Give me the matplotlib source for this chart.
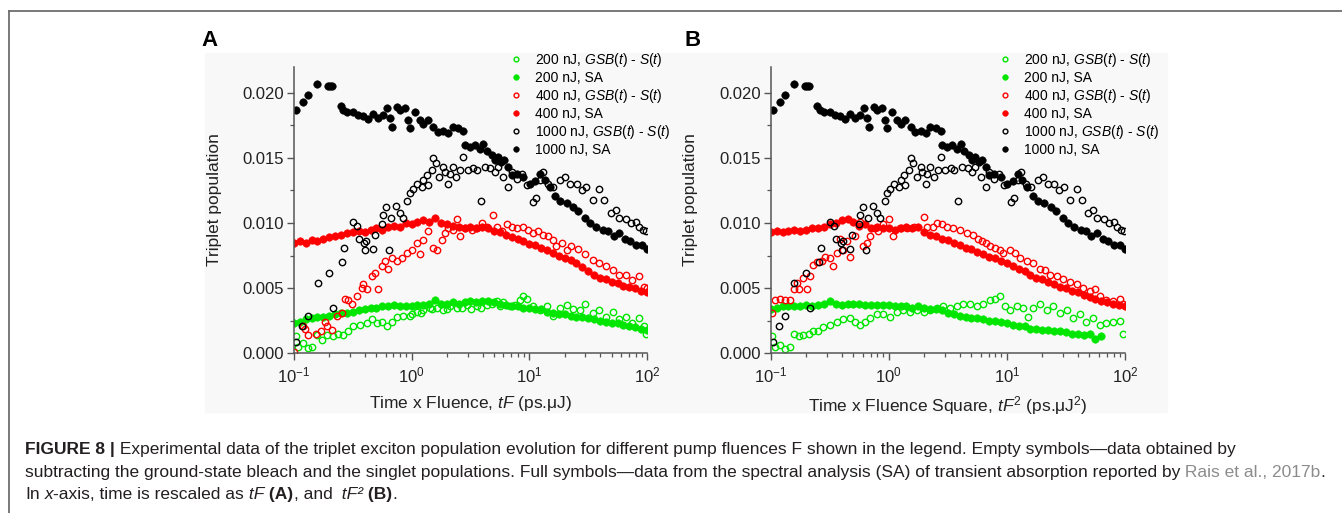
import matplotlib
matplotlib.use('Agg')
import matplotlib.pyplot as plt
import numpy as np
from matplotlib.lines import Line2D
from matplotlib.patches import Rectangle
from matplotlib.ticker import LogLocator, MultipleLocator, NullFormatter, FormatStrFormatter

plt.rcParams['font.family'] = 'Liberation Sans'
plt.rcParams['mathtext.fontset'] = 'custom'
plt.rcParams['mathtext.rm'] = 'Liberation Sans'
plt.rcParams['mathtext.it'] = 'Liberation Sans:italic'
plt.rcParams['mathtext.bf'] = 'Liberation Sans:bold'

# ---- data ----
# common time grid for the spectral-analysis (SA) curves
grid = [0.1, 0.112, 0.126, 0.141, 0.158, 0.178, 0.2, 0.224, 0.251, 0.282,
        0.316, 0.355, 0.398, 0.447, 0.501, 0.562, 0.631, 0.708, 0.794, 0.891,
        1.0, 1.12, 1.26, 1.41, 1.58, 1.78, 2.0, 2.24, 2.51, 2.82,
        3.16, 3.55, 3.98, 4.47, 5.01, 5.62, 6.31, 7.08, 7.94, 8.91,
        10.0, 11.2, 12.6, 14.1, 15.8, 17.8, 20.0, 22.4, 25.1, 28.2,
        31.6, 35.5, 39.8, 44.7, 50.1, 56.2, 63.1, 70.8, 79.4, 89.1,
        100.0]

# panel A (x = tF)
sa200_A = [0.0023, 0.0024, 0.0026, 0.0027, 0.0028, 0.0028, 0.0029, 0.0030, 0.0031, 0.0031,
           0.0032, 0.0033, 0.0034, 0.0035, 0.0035, 0.0036, 0.0036, 0.0037, 0.0036, 0.0036,
           0.0036, 0.0037, 0.0037, 0.0038, 0.0041, 0.0038, 0.0038, 0.0039, 0.0038, 0.0039,
           0.0040, 0.0039, 0.0040, 0.0040, 0.0039, 0.0038, 0.0037, 0.0036, 0.0036, 0.0035,
           0.0035, 0.0034, 0.0034, 0.0032, 0.0031, 0.0030, 0.0030, 0.0029, 0.0028, 0.0028,
           0.0027, 0.0026, 0.0025, 0.0024, 0.0023, 0.0023, 0.0022, 0.0021, 0.0020, 0.0019,
           0.0018]
sa400_A = [0.0085, 0.0086, 0.0085, 0.0087, 0.0086, 0.0088, 0.0089, 0.0090, 0.0091, 0.0092,
           0.0093, 0.0094, 0.0093, 0.0095, 0.0096, 0.0095, 0.0097, 0.0098, 0.0097, 0.0100,
           0.0099, 0.0101, 0.0102, 0.0101, 0.0104, 0.0100, 0.0099, 0.0098, 0.0097, 0.0096,
           0.0097, 0.0096, 0.0097, 0.0096, 0.0094, 0.0093, 0.0091, 0.0089, 0.0088, 0.0086,
           0.0084, 0.0083, 0.0081, 0.0079, 0.0077, 0.0075, 0.0073, 0.0072, 0.0069, 0.0066,
           0.0063, 0.0060, 0.0058, 0.0057, 0.0055, 0.0054, 0.0052, 0.0051, 0.0050, 0.0048,
           0.0047]

gsb200_A_x = [0.104, 0.109, 0.12, 0.132, 0.141, 0.156, 0.172, 0.189, 0.216, 0.238,
              0.262, 0.29, 0.319, 0.364, 0.414, 0.457, 0.504, 0.556, 0.613, 0.676,
              0.745, 0.85, 0.97, 1.0, 1.1, 1.2, 1.26, 1.43, 1.5, 1.63,
              1.86, 2.0, 2.11, 2.41, 2.7, 2.93, 3.2, 3.56, 3.9, 4.33,
              4.8, 5.27, 5.6, 6.0, 6.8, 7.5, 8.3, 8.9, 9.5, 10.8,
              12.3, 14.0, 16.0, 18.3, 20.7, 23.6, 26.9, 30.0, 34.5, 39.0,
              45.0, 51.0, 58.0, 66.0, 75.0, 86.0, 95.0, 98.0]
gsb200_A = [0.0013, 0.0005, 0.0008, 0.0004, 0.0005, 0.0014, 0.0010, 0.0014, 0.0013, 0.0015,
            0.0014, 0.0017, 0.0021, 0.0022, 0.0023, 0.0026, 0.0023, 0.0024, 0.0021, 0.0024,
            0.0028, 0.0029, 0.0029, 0.0030, 0.0032, 0.0031, 0.0033, 0.0035, 0.0034, 0.0035,
            0.0033, 0.0034, 0.0036, 0.0035, 0.0035, 0.0037, 0.0034, 0.0036, 0.0035, 0.0037,
            0.0038, 0.0040, 0.0036, 0.0039, 0.0036, 0.0037, 0.0041, 0.0044, 0.0042, 0.0036,
            0.0033, 0.0036, 0.0029, 0.0035, 0.0037, 0.0034, 0.0033, 0.0038, 0.0031, 0.0033,
            0.0028, 0.0032, 0.0026, 0.0028, 0.0023, 0.0027, 0.0021, 0.0015]

gsb400_A_x = [0.1, 0.12, 0.124, 0.132, 0.154, 0.17, 0.183, 0.19, 0.209, 0.23,
              0.254, 0.271, 0.29, 0.309, 0.34, 0.376, 0.388, 0.414, 0.457, 0.488,
              0.521, 0.556, 0.594, 0.634, 0.676, 0.745, 0.822, 0.906, 1.0, 1.1,
              1.18, 1.26, 1.39, 1.53, 1.63, 1.8, 1.92, 2.05, 2.26, 2.41,
              2.57, 2.84, 3.23, 3.56, 3.93, 4.33, 4.93, 5.27, 5.81, 6.4,
              7.06, 7.78, 8.9, 9.8, 10.8, 11.9, 13.1, 14.5, 16.0, 17.0,
              18.8, 20.7, 22.8, 26.1, 29.8, 34.5, 39.0, 45.0, 51.0, 58.0,
              66.0, 75.0, 86.0, 95.0, 100.0]
gsb400_A = [0.0001, 0.0021, 0.0019, 0.0014, 0.0015, 0.0017, 0.0024, 0.0021, 0.0018, 0.0029,
            0.0031, 0.0042, 0.0041, 0.0038, 0.0044, 0.0050, 0.0053, 0.0049, 0.0059, 0.0062,
            0.0049, 0.0067, 0.0071, 0.0065, 0.0073, 0.0071, 0.0073, 0.0077, 0.0079, 0.0085,
            0.0076, 0.0087, 0.0094, 0.0081, 0.0079, 0.0087, 0.0092, 0.0096, 0.0095, 0.0103,
            0.0090, 0.0096, 0.0095, 0.0096, 0.0100, 0.0097, 0.0106, 0.0097, 0.0094, 0.0099,
            0.0097, 0.0096, 0.0097, 0.0095, 0.0092, 0.0094, 0.0091, 0.0090, 0.0087, 0.0082,
            0.0085, 0.0079, 0.0082, 0.0080, 0.0076, 0.0072, 0.0069, 0.0067, 0.0064, 0.0060,
            0.0060, 0.0056, 0.0059, 0.0051, 0.0050]

# 1000 nJ: F = 1 uJ, so tF = tF^2 and the same points appear in both panels
sa1000_x = [0.105, 0.119, 0.132, 0.158, 0.196, 0.203, 0.209, 0.249, 0.262, 0.28,
            0.319, 0.352, 0.388, 0.428, 0.473, 0.521, 0.566, 0.612, 0.653, 0.675,
            0.744, 0.795, 0.88, 0.935, 0.96, 1.06, 1.18, 1.26, 1.38, 1.53,
            1.68, 1.86, 2.05, 2.25, 2.49, 2.75, 2.84, 3.13, 3.45, 3.81,
            4.07, 4.34, 4.8, 5.1, 5.4, 5.8, 6.1, 6.6, 7.06, 7.8,
            8.9, 10.1, 11.2, 12.3, 13.5, 14.9, 16.5, 18.3, 20.8, 23.6,
            26.1, 29.8, 33.0, 37.0, 42.0, 47.0, 52.0, 58.0, 65.0, 72.0,
            80.0, 90.0, 100.0]
sa1000 = [0.0187, 0.0193, 0.0198, 0.0207, 0.0205, 0.0205, 0.0205, 0.0190, 0.0187, 0.0185,
          0.0185, 0.0183, 0.0182, 0.0180, 0.0184, 0.0181, 0.0183, 0.0188, 0.0181, 0.0174,
          0.0189, 0.0187, 0.0188, 0.0179, 0.0173, 0.0185, 0.0179, 0.0176, 0.0179, 0.0174,
          0.0170, 0.0171, 0.0169, 0.0174, 0.0173, 0.0171, 0.0160, 0.0158, 0.0160, 0.0157,
          0.0161, 0.0155, 0.0152, 0.0148, 0.0151, 0.0147, 0.0148, 0.0143, 0.0137, 0.0138,
          0.0135, 0.0130, 0.0132, 0.0138, 0.0133, 0.0128, 0.0121, 0.0117, 0.0115, 0.0112,
          0.0109, 0.0104, 0.0100, 0.0097, 0.0095, 0.0094, 0.0090, 0.0092, 0.0088, 0.0086,
          0.0083, 0.0083, 0.0080]
gsb1000_x = [0.105, 0.118, 0.132, 0.159, 0.2, 0.216, 0.254, 0.266, 0.32, 0.345,
             0.36, 0.39, 0.4, 0.41, 0.466, 0.49, 0.56, 0.57, 0.61, 0.64,
             0.67, 0.74, 0.8, 0.85, 0.92, 0.97, 1.03, 1.1, 1.22, 1.26,
             1.34, 1.38, 1.48, 1.53, 1.6, 1.72, 1.86, 1.92, 2.05, 2.1,
             2.25, 2.4, 2.6, 2.75, 3.0, 3.33, 3.56, 3.85, 4.2, 4.64,
             5.1, 5.4, 6.0, 6.6, 7.06, 7.8, 8.6, 9.5, 10.8, 11.5,
             12.3, 13.1, 14.5, 16.0, 18.3, 20.1, 22.2, 25.2, 27.8, 30.6,
             34.5, 39.0, 43.0, 49.0, 54.0, 58.0, 66.0, 73.0, 81.0, 86.0,
             92.0, 98.0]
gsb1000 = [0.0009, 0.0021, 0.0029, 0.0054, 0.0062, 0.0035, 0.0070, 0.0081, 0.0101, 0.0098,
           0.0088, 0.0085, 0.0079, 0.0086, 0.0080, 0.0091, 0.0099, 0.0106, 0.0112, 0.0079,
           0.0104, 0.0113, 0.0108, 0.0104, 0.0117, 0.0123, 0.0126, 0.0130, 0.0128, 0.0133,
           0.0137, 0.0129, 0.0141, 0.0150, 0.0146, 0.0135, 0.0143, 0.0139, 0.0130, 0.0138,
           0.0143, 0.0135, 0.0141, 0.0151, 0.0141, 0.0142, 0.0141, 0.0117, 0.0143, 0.0142,
           0.0139, 0.0143, 0.0135, 0.0128, 0.0139, 0.0134, 0.0138, 0.0129, 0.0116, 0.0119,
           0.0133, 0.0139, 0.0130, 0.0128, 0.0133, 0.0135, 0.0130, 0.0130, 0.0125, 0.0128,
           0.0118, 0.0126, 0.0118, 0.0108, 0.0110, 0.0104, 0.0103, 0.0100, 0.0101, 0.0097,
           0.0095, 0.0094]

# panel B (x = tF^2)
sa200_B = [0.0034, 0.0035, 0.0036, 0.0036, 0.0036, 0.0036, 0.0037, 0.0036, 0.0037, 0.0038,
           0.0040, 0.0038, 0.0037, 0.0038, 0.0038, 0.0038, 0.0037, 0.0037, 0.0037, 0.0037,
           0.0037, 0.0036, 0.0036, 0.0036, 0.0035, 0.0036, 0.0035, 0.0034, 0.0034, 0.0033,
           0.0031, 0.0030, 0.0029, 0.0028, 0.0027, 0.0027, 0.0026, 0.0025, 0.0025, 0.0024,
           0.0023, 0.0022, 0.0021, 0.0021, 0.0019, 0.0019, 0.0018, 0.0018, 0.0017, 0.0017,
           0.0016, 0.0015, 0.0015, 0.0014, 0.0015, 0.0011, 0.0013]
sa400_B = [0.0093, 0.0094, 0.0093, 0.0094, 0.0095, 0.0094, 0.0095, 0.0096, 0.0096, 0.0097,
           0.0099, 0.0100, 0.0102, 0.0103, 0.0101, 0.0098, 0.0099, 0.0096, 0.0097, 0.0096,
           0.0096, 0.0095, 0.0096, 0.0097, 0.0096, 0.0097, 0.0093, 0.0091, 0.0090, 0.0088,
           0.0087, 0.0085, 0.0083, 0.0081, 0.0080, 0.0078, 0.0076, 0.0074, 0.0073, 0.0071,
           0.0069, 0.0067, 0.0065, 0.0063, 0.0060, 0.0058, 0.0057, 0.0055, 0.0053, 0.0051,
           0.0050, 0.0048, 0.0047, 0.0045, 0.0043, 0.0042, 0.0040, 0.0039, 0.0038, 0.0037,
           0.0036]

gsb200_B_x = [0.102, 0.109, 0.12, 0.132, 0.146, 0.156, 0.172, 0.189, 0.209, 0.23,
              0.253, 0.279, 0.318, 0.362, 0.412, 0.47, 0.518, 0.57, 0.63, 0.69,
              0.79, 0.9, 1.03, 1.17, 1.33, 1.52, 1.73, 1.97, 2.24, 2.55,
              2.9, 3.3, 3.77, 4.29, 4.88, 5.56, 6.33, 7.2, 7.95, 8.7,
              9.6, 10.6, 12.1, 13.8, 15.2, 16.7, 19.1, 21.7, 24.7, 28.1,
              32.0, 36.4, 41.4, 47.2, 53.7, 61.0, 69.5, 79.0, 90.0, 96.0]
gsb200_B = [0.0013, 0.0005, 0.0006, 0.0003, 0.0005, 0.0015, 0.0013, 0.0014, 0.0015, 0.0017,
            0.0017, 0.0020, 0.0022, 0.0024, 0.0026, 0.0027, 0.0024, 0.0022, 0.0024, 0.0027,
            0.0030, 0.0030, 0.0028, 0.0032, 0.0033, 0.0032, 0.0033, 0.0032, 0.0033, 0.0035,
            0.0036, 0.0035, 0.0036, 0.0038, 0.0038, 0.0036, 0.0038, 0.0041, 0.0042, 0.0044,
            0.0036, 0.0033, 0.0036, 0.0035, 0.0028, 0.0035, 0.0038, 0.0033, 0.0036, 0.0031,
            0.0033, 0.0027, 0.0030, 0.0024, 0.0027, 0.0022, 0.0023, 0.0024, 0.0025, 0.0015]

gsb400_B_x = [0.102, 0.109, 0.12, 0.132, 0.146, 0.156, 0.166, 0.172, 0.189, 0.202,
              0.215, 0.23, 0.245, 0.27, 0.289, 0.318, 0.34, 0.362, 0.388, 0.412,
              0.44, 0.47, 0.518, 0.57, 0.61, 0.65, 0.69, 0.766, 0.81, 0.9,
              1.0, 1.09, 1.24, 1.42, 1.62, 1.97, 2.1, 2.39, 2.55, 2.8,
              3.1, 3.53, 4.0, 4.57, 5.2, 5.7, 6.1, 6.7, 7.2, 7.95,
              8.7, 9.3, 10.6, 11.7, 12.9, 14.7, 16.7, 19.1, 21.0, 23.2,
              26.4, 30.0, 34.3, 39.0, 44.4, 50.5, 55.7, 61.0, 69.5, 79.0,
              90.0, 96.0]
gsb400_B = [0.0031, 0.0041, 0.0042, 0.0041, 0.0041, 0.0049, 0.0054, 0.0049, 0.0058, 0.0049,
            0.0059, 0.0068, 0.0070, 0.0071, 0.0074, 0.0073, 0.0067, 0.0077, 0.0088, 0.0079,
            0.0086, 0.0074, 0.0090, 0.0101, 0.0082, 0.0085, 0.0090, 0.0096, 0.0094, 0.0099,
            0.0103, 0.0090, 0.0096, 0.0096, 0.0097, 0.0105, 0.0097, 0.0097, 0.0100, 0.0099,
            0.0097, 0.0096, 0.0095, 0.0092, 0.0091, 0.0088, 0.0086, 0.0085, 0.0082, 0.0081,
            0.0079, 0.0077, 0.0079, 0.0077, 0.0073, 0.0071, 0.0069, 0.0065, 0.0064, 0.0060,
            0.0059, 0.0057, 0.0055, 0.0053, 0.0050, 0.0048, 0.0049, 0.0044, 0.0041, 0.0040,
            0.0042, 0.0038]

labels = ['200 nJ, $GSB$($t$) - $S$($t$)', '200 nJ, SA',
          '400 nJ, $GSB$($t$) - $S$($t$)', '400 nJ, SA',
          '1000 nJ, $GSB$($t$) - $S$($t$)', '1000 nJ, SA']
colors = ['#00e600', '#00e600', '#ff0000', '#ff0000', '#000000', '#000000']
filled = [False, True, False, True, False, True]

series_A = [(gsb200_A_x, gsb200_A), (grid, sa200_A),
            (gsb400_A_x, gsb400_A), (grid, sa400_A),
            (gsb1000_x, gsb1000), (sa1000_x, sa1000)]
series_B = [(gsb200_B_x, gsb200_B), (grid[:len(sa200_B)], sa200_B),
            (gsb400_B_x, gsb400_B), (grid, sa400_B),
            (gsb1000_x, gsb1000), (sa1000_x, sa1000)]

# ---- figure ----
W, H = 1342, 513
fig = plt.figure(figsize=(W / 100, H / 100), dpi=100)


def fx(px):
    return px / W


def fy(py):
    return 1 - py / H


# light grey background behind both panels
fig.patches.append(Rectangle((fx(205), fy(412)), fx(1167) - fx(205), (412 - 53) / H,
                             transform=fig.transFigure, color='#f8f8f8', zorder=-5))

# frame lines (left and top)
fig.add_artist(Line2D([fx(9.3), fx(9.3)], [fy(10.7), 0], transform=fig.transFigure,
                      color='#6e6e6e', lw=1.3))
fig.add_artist(Line2D([fx(9.3), 1], [fy(10.7), fy(10.7)], transform=fig.transFigure,
                      color='#6e6e6e', lw=1.3))

axA = fig.add_axes([fx(294), fy(353.3), (647 - 294) / W, (353.3 - 66.7) / H])
axB = fig.add_axes([fx(770.7), fy(353.3), (1125 - 770.7) / W, (353.3 - 66.7) / H])


def setup(ax, series, xlabel, leg_x):
    for (x, y), c, f, lab in zip(series, colors, filled, labels):
        ax.plot(x, y, ls='none', marker='o', ms=5.4 if f else 4.6,
                mfc=c if f else 'none', mec=c, mew=0.4 if f else 1.0, label=lab)
    ax.set_xscale('log')
    ax.set_xlim(0.1, 100)
    ax.set_ylim(0, 0.022)
    ax.patch.set_visible(False)
    for s in ['top', 'right']:
        ax.spines[s].set_visible(False)
    for s in ['left', 'bottom']:
        ax.spines[s].set_color('#555555')
        ax.spines[s].set_linewidth(1.1)
    ax.yaxis.set_major_locator(MultipleLocator(0.005))
    ax.yaxis.set_minor_locator(MultipleLocator(0.0025))
    ax.yaxis.set_major_formatter(FormatStrFormatter('%.3f'))
    ax.xaxis.set_major_locator(LogLocator(base=10))
    ax.xaxis.set_minor_locator(LogLocator(base=10, subs=np.arange(2, 10)))
    ax.xaxis.set_minor_formatter(NullFormatter())
    ax.tick_params(which='major', length=5, width=1.0, color='#555555',
                   labelsize=12, labelcolor='#222222')
    ax.tick_params(which='minor', length=3, width=0.9, color='#555555')
    ax.tick_params(axis='y', pad=2)
    ax.tick_params(axis='x', pad=4)
    ax.set_ylabel('Triplet population', fontsize=12.5, color='#222222')
    ax.yaxis.set_label_coords(-0.204, 0.535)
    ax.set_xlabel(xlabel, fontsize=12.5, color='#222222', va='top')
    ax.xaxis.set_label_coords(0.5, -0.142)
    ax.legend(loc='upper left', bbox_to_anchor=(fx(leg_x), fy(51)),
              bbox_transform=fig.transFigure, frameon=False, fontsize=10,
              borderpad=0, borderaxespad=0, handlelength=1.0, handletextpad=0.85,
              labelspacing=0.14, markerscale=0.75)


setup(axA, series_A, 'Time x Fluence, $tF$ (ps.μJ)', 509)
setup(axB, series_B, 'Time x Fluence Square, $tF^2$ (ps.μJ$^2$)', 998)

fig.text(fx(201), fy(46), 'A', fontsize=16, fontweight='bold', va='baseline')
fig.text(fx(684), fy(46), 'B', fontsize=16, fontweight='bold', va='baseline')

# ---- caption, drawn piece by piece ----
cap_size = 12.5
ink = '#231f20'
renderer = fig.canvas.get_renderer()


def caption_line(y_px, pieces):
    x = 25
    for txt, kind in pieces:
        kw = dict(fontsize=cap_size, va='baseline', ha='left', color=ink)
        if kind == 'b':
            kw['fontweight'] = 'bold'
        elif kind == 'i':
            kw['fontstyle'] = 'italic'
        elif kind == 'g':
            kw['color'] = '#8c8c8c'
        t = fig.text(fx(x), fy(y_px), txt, **kw)
        x += t.get_window_extent(renderer=renderer).width


caption_line(454, [('FIGURE 8 |', 'b'),
                   (' Experimental data of the triplet exciton population evolution for different '
                    'pump fluences F shown in the legend. Empty symbols\u2014data obtained by', 'n')])
caption_line(477, [('subtracting the ground-state bleach and the singlet populations. Full '
                    'symbols\u2014data from the spectral analysis (SA) of transient absorption '
                    'reported by', 'n'),
                   (' Rais et al., 2017b', 'g'), ('.', 'n')])
caption_line(499, [('In', 'n'), (' x', 'i'), ('-axis, time is rescaled as', 'n'),
                   (' tF', 'i'), (' (A)', 'b'), (', and', 'n'), ('  tF\u00b2', 'i'),
                   (' (B)', 'b'), ('.', 'n')])

fig.savefig('out.png', dpi=100)
